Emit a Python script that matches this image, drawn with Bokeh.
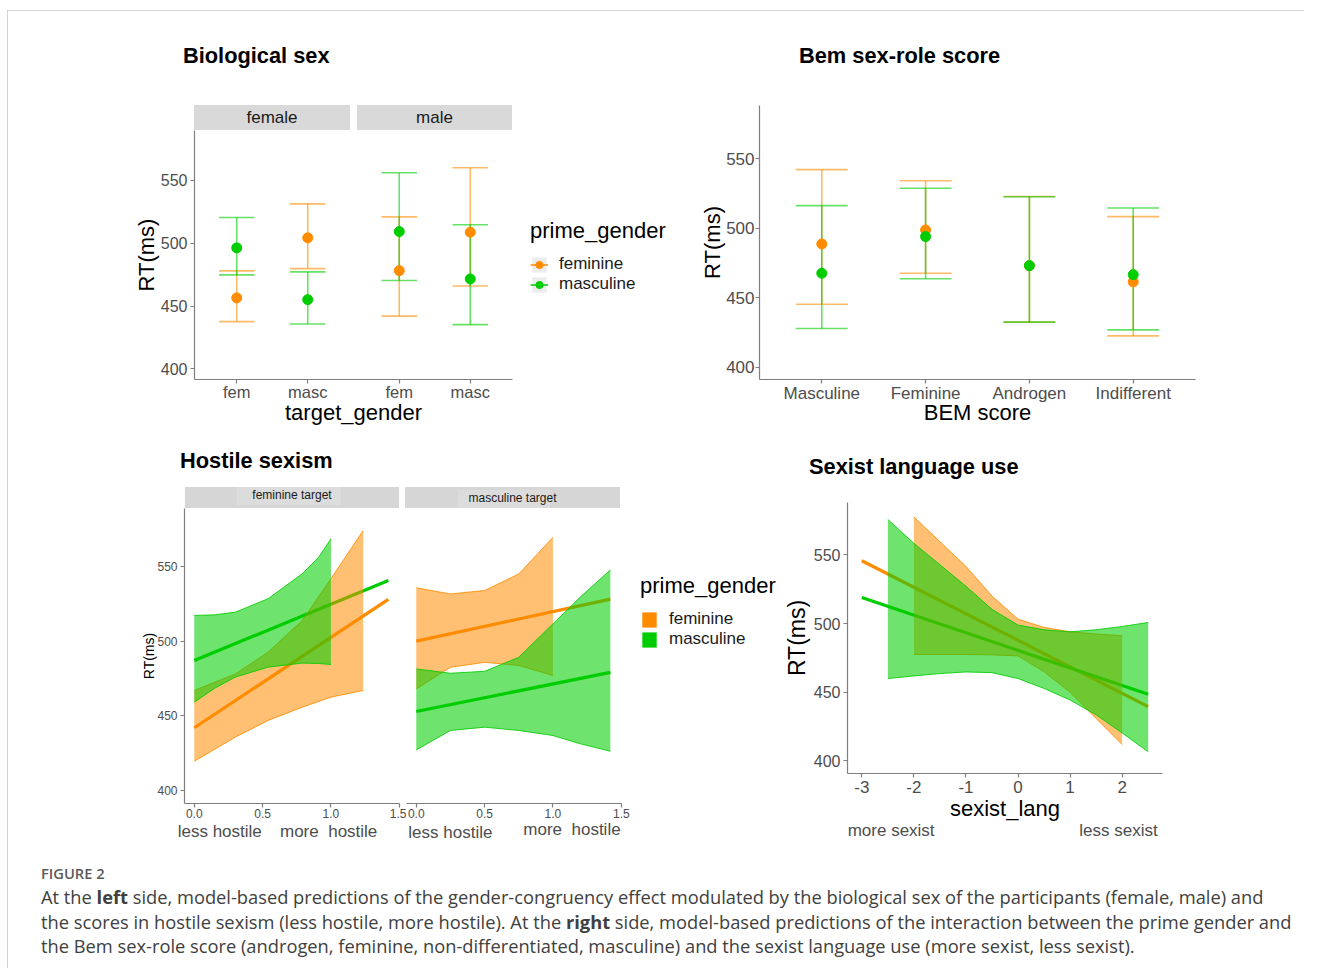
from bokeh.plotting import figure
from bokeh.models import (ColumnDataSource, FactorRange, Range1d, Legend, LegendItem,
                          SingleIntervalTicker, NumeralTickFormatter, Div, Spacer)
from bokeh.layouts import column, row
from bokeh.transform import dodge
from bokeh.embed import file_html
from bokeh.resources import INLINE

# ------------------------------------------------------------------ data
prime_levels = ["feminine", "masculine"]

# Biological sex (top left) : facets x target_gender
sex_groups = ["female", "male"]
target_levels = ["fem", "masc"]
# order: female/fem, female/masc, male/fem, male/masc
bio_fem_mean = [456.5, 504.3, 478.2, 508.8]
bio_fem_lower = [437.6, 479.8, 442.0, 466.0]
bio_fem_upper = [478.0, 531.4, 521.0, 560.1]
bio_masc_mean = [496.3, 455.1, 509.3, 471.6]
bio_masc_lower = [474.8, 435.7, 470.3, 435.2]
bio_masc_upper = [520.5, 477.2, 556.1, 514.7]

# Bem sex-role score (top right)
bem_levels = ["Masculine", "Feminine", "Androgen", "Indifferent"]
bem_fem_mean = [488.7, 498.8, 473.0, 461.4]
bem_fem_lower = [445.3, 467.6, 432.4, 422.5]
bem_fem_upper = [542.2, 534.2, 522.9, 508.4]
bem_masc_mean = [467.6, 494.0, 473.1, 466.6]
bem_masc_lower = [427.8, 463.7, 432.4, 426.8]
bem_masc_upper = [516.3, 528.8, 522.7, 514.6]

# Hostile sexism (bottom left)
hs_targets = ["feminine target", "masculine target"]
hs_line_x = [0.0, 1.42]
hs_ft_fem_line = [442.0, 528.0]
hs_ft_masc_line = [487.0, 540.6]
hs_mt_fem_line = [500.0, 528.1]
hs_mt_masc_line = [452.9, 479.1]

hs_ft_fem_band_x = [0.0, 0.3, 0.54, 0.79, 1.0, 1.236]
hs_ft_fem_upper = [467.0, 478.0, 492.6, 513.8, 541.8, 574.1]
hs_ft_fem_lower = [419.6, 435.7, 446.9, 455.8, 462.5, 467.0]
hs_ft_masc_band_x = [0.0, 0.15, 0.3, 0.54, 0.79, 0.91, 1.0]
hs_ft_masc_upper = [517.2, 517.6, 519.4, 528.4, 545.1, 556.2, 568.5]
hs_ft_masc_lower = [459.1, 468.5, 475.9, 482.6, 485.3, 485.0, 484.4]

hs_mt_fem_band_x = [0.0, 0.25, 0.5, 0.75, 1.0]
hs_mt_fem_upper = [535.7, 531.6, 533.9, 545.0, 569.5]
hs_mt_fem_lower = [468.0, 482.5, 485.8, 483.7, 477.0]
hs_mt_masc_band_x = [0.0, 0.25, 0.5, 0.75, 1.0, 1.2, 1.42]
hs_mt_masc_upper = [481.4, 478.5, 479.8, 489.2, 511.6, 529.5, 547.7]
hs_mt_masc_lower = [427.2, 440.2, 442.4, 440.2, 436.8, 431.3, 426.3]

# Sexist language use (bottom right)
sl_line_x = [-3.0, 2.5]
sl_fem_line = [545.7, 439.6]
sl_masc_line = [518.9, 448.5]
sl_fem_band_x = [-2, -1.5, -1, -0.5, 0, 0.5, 1, 1.5, 2]
sl_fem_upper = [577.6, 559.6, 541.6, 520.0, 503.2, 497.2, 494.0, 492.4, 491.2]
sl_fem_lower = [477.5, 477.5, 477.5, 477.2, 476.5, 465.0, 450.0, 431.0, 412.0]
sl_masc_band_x = [-2.5, -2, -1.5, -1, -0.5, 0, 0.5, 1, 1.5, 2, 2.5]
sl_masc_upper = [575.7, 558.4, 542.8, 527.2, 510.4, 498.9, 495.5, 494.0, 495.5, 497.9, 500.8]
sl_masc_lower = [460.0, 461.9, 463.6, 464.8, 464.3, 460.0, 452.8, 444.4, 433.6, 420.4, 406.7]

# ------------------------------------------------------------------ styles
FONT = "Liberation Sans"
CAP_FONT = "Open Sans"
ORANGE = "#FF8C00"
GREEN = "#00CD00"
TXT_GRAY = "#4d4d4d"
AX_GRAY = "#7f7f7f"
COLORS = [ORANGE, GREEN]


def base_fig(width, height, x_range, y_range, left, right, top, bottom, **kw):
    p = figure(width=width, height=height, x_range=x_range, y_range=y_range,
               output_backend="svg", toolbar_location=None,
               min_border_left=left, min_border_right=right,
               min_border_top=top, min_border_bottom=bottom, **kw)
    p.outline_line_color = None
    p.xgrid.visible = False
    p.ygrid.visible = False
    return p


def style_axis(ax, label_size, title_size, label_standoff, title_standoff):
    ax.axis_line_color = AX_GRAY
    ax.axis_line_width = 1.2
    ax.major_tick_line_color = AX_GRAY
    ax.major_tick_line_width = 1.2
    ax.major_tick_in = 0
    ax.major_tick_out = 4
    ax.minor_tick_line_color = None
    ax.major_label_text_font = FONT
    ax.major_label_text_font_size = label_size
    ax.major_label_text_color = TXT_GRAY
    ax.major_label_standoff = label_standoff
    ax.axis_label_text_font = FONT
    ax.axis_label_text_font_size = title_size
    ax.axis_label_text_font_style = "normal"
    ax.axis_label_text_color = "#000000"
    ax.axis_label_standoff = title_standoff


def pointranges(p, xs, series, half):
    srcs = []
    for (mean, lower, upper), col in zip(series, COLORS):
        src = ColumnDataSource(dict(x=xs, mean=mean, lower=lower, upper=upper))
        kw = dict(line_color=col, line_alpha=0.6, line_width=1.6, source=src)
        p.segment(x0="x", y0="lower", x1="x", y1="upper", **kw)
        p.segment(x0=dodge("x", -half, range=p.x_range), y0="upper",
                  x1=dodge("x", half, range=p.x_range), y1="upper", **kw)
        p.segment(x0=dodge("x", -half, range=p.x_range), y0="lower",
                  x1=dodge("x", half, range=p.x_range), y1="lower", **kw)
        srcs.append(src)
    for src, col in zip(srcs, COLORS):
        p.scatter("x", "mean", size=10, fill_color=col, line_color=col, source=src)


def fit_lines(p, x, ys):
    for y, col in zip(ys, COLORS):
        p.line(x=x, y=y, line_color=col, line_width=3.2)


def bands(p, specs):
    for (x, lower, upper), col, a in zip(specs, COLORS, [0.55, 0.57]):
        src = ColumnDataSource(dict(x=x, lower=lower, upper=upper))
        p.varea(x="x", y1="lower", y2="upper", fill_color=col, fill_alpha=a, source=src)
        p.line("x", "upper", line_color=col, line_width=1, line_alpha=0.85, source=src)
        p.line("x", "lower", line_color=col, line_width=1, line_alpha=0.85, source=src)


def legend_fig(width, height, kind, series):
    # the legend lives in its own small figure; its key renderers reuse the
    # chart's own values but are hidden, only the legend draws them
    p = figure(width=width, height=height, output_backend="svg", toolbar_location=None,
               x_range=Range1d(0, 1), y_range=Range1d(0, 1),
               x_axis_location=None, y_axis_location=None, min_border=0)
    p.outline_line_color = None
    p.xgrid.visible = False
    p.ygrid.visible = False
    items = []
    for lab, col, (mean, lower, upper) in zip(prime_levels, COLORS, series):
        src = ColumnDataSource(dict(mean=mean, lower=lower, upper=upper))
        if kind == "point":
            bg = p.quad(left="lower", right="upper", top="upper", bottom="lower", source=src,
                        fill_color="#ececec", line_color=None, visible=False)
            ln = p.segment(x0="lower", y0="mean", x1="upper", y1="mean", source=src,
                           line_color=col, line_alpha=0.75, line_width=2, visible=False)
            pt = p.scatter("mean", "mean", source=src, size=8, fill_color=col,
                           line_color=col, visible=False)
            rs = [bg, ln, pt]
        else:
            q = p.quad(left="lower", right="upper", top="upper", bottom="lower", source=src,
                       fill_color=col, line_color=None, visible=False)
            rs = [q]
        items.append(LegendItem(label=lab, renderers=rs))
    leg = Legend(items=items, location="top_left", title="prime_gender",
                 margin=0, padding=0, spacing=0, glyph_width=18, glyph_height=19,
                 label_height=19, label_standoff=11, title_standoff=10,
                 label_text_font=FONT, label_text_font_size="17px", label_text_color="#1a1a1a",
                 title_text_font=FONT, title_text_font_size="22px", title_text_font_style="normal",
                 title_text_color="#000000", border_line_color=None, background_fill_alpha=0,
                 inactive_fill_alpha=0)
    p.add_layout(leg)
    return p


def txt(left, cy, text, fs, color="#000000", weight="normal", family=FONT, lh=None):
    lh = lh or round(fs * 1.2)
    top = cy - lh / 2
    return (f'<div style="position:absolute;left:{left}px;top:{top:.1f}px;line-height:{lh}px;'
            f"font-family:'{family}';font-size:{fs}px;font-weight:{weight};color:{color};"
            f'white-space:pre;">{text}</div>')


def box(left, top, width, height, bg):
    return (f'<div style="position:absolute;left:{left}px;top:{top}px;width:{width}px;'
            f'height:{height}px;background:{bg};"></div>')


def ctext(left, cy, width, text, fs, color="#1a1a1a", lh=20):
    return (f'<div style="position:absolute;left:{left}px;top:{cy - lh / 2:.1f}px;width:{width}px;'
            f"line-height:{lh}px;text-align:center;font-family:'{FONT}';font-size:{fs}px;"
            f'color:{color};white-space:nowrap;">{text}</div>')


def canvas_div(width, height, inner):
    return Div(text=f'<div style="position:relative;width:{width}px;height:{height}px;">{inner}</div>',
               width=width, height=height, margin=0)


# ------------------------------------------------------------------ top left
bio_factors = [(s, t) for s in sex_groups for t in target_levels]
bio_xr = FactorRange(factors=bio_factors, group_padding=0.289, range_padding=0.095,
                     range_padding_units="absolute")
p_bio = base_fig(522, 307, bio_xr, Range1d(391.5, 589.8), 186, 18, 0, 58)
pointranges(p_bio, bio_factors,
            [(bio_fem_mean, bio_fem_lower, bio_fem_upper),
             (bio_masc_mean, bio_masc_lower, bio_masc_upper)], 0.25)
p_bio.yaxis[0].ticker = SingleIntervalTicker(interval=50, num_minor_ticks=0)
p_bio.yaxis[0].axis_label = "RT(ms)"
p_bio.xaxis[0].axis_label = "target_gender"
style_axis(p_bio.yaxis[0], "16px", "22px", 3, -1)
style_axis(p_bio.xaxis[0], "16.5px", "22px", -1, -4)
p_bio.xaxis[0].group_text_font_size = "0px"
p_bio.xaxis[0].group_text_color = None
p_bio.xaxis[0].separator_line_color = None

tl_leg = legend_fig(160, 100, "point",
                    [(bio_fem_mean, bio_fem_lower, bio_fem_upper),
                     (bio_masc_mean, bio_masc_lower, bio_masc_upper)])

tl_strip = canvas_div(682, 25,
                      box(186, 0, 156, 25, "#d9d9d9") + ctext(186, 12.5, 156, sex_groups[0], 17, lh=25) +
                      box(349, 0, 155, 25, "#d9d9d9") + ctext(349, 12.5, 155, sex_groups[1], 17, lh=25))

tl_block = column(tl_strip, row(p_bio, column(Spacer(width=160, height=88), tl_leg)))

# ------------------------------------------------------------------ top right
bem_xr = FactorRange(factors=bem_levels, range_padding=0.1, range_padding_units="absolute")
p_bem = base_fig(614, 332, bem_xr, Range1d(391.1, 588.4), 69, 109, 0, 58)
pointranges(p_bem, bem_levels,
            [(bem_fem_mean, bem_fem_lower, bem_fem_upper),
             (bem_masc_mean, bem_masc_lower, bem_masc_upper)], 0.25)
p_bem.yaxis[0].ticker = SingleIntervalTicker(interval=50, num_minor_ticks=0)
p_bem.yaxis[0].axis_label = "RT(ms)"
p_bem.xaxis[0].axis_label = "BEM score"
style_axis(p_bem.yaxis[0], "17px", "22px", 1, -2)
style_axis(p_bem.xaxis[0], "17px", "22px", 0, -6)

# ------------------------------------------------------------------ bottom left
hs_yr = Range1d(391.3, 588.8)
p_hs1 = base_fig(398, 313, Range1d(-0.0715, 1.5015), hs_yr, 176, 7, 0, 18)
p_hs2 = base_fig(234, 313, Range1d(-0.0715, 1.5015), hs_yr, 0, 19, 0, 18, y_axis_location=None)
fit_lines(p_hs1, hs_line_x, [hs_ft_fem_line, hs_ft_masc_line])
bands(p_hs1, [(hs_ft_fem_band_x, hs_ft_fem_lower, hs_ft_fem_upper),
              (hs_ft_masc_band_x, hs_ft_masc_lower, hs_ft_masc_upper)])
fit_lines(p_hs2, hs_line_x, [hs_mt_fem_line, hs_mt_masc_line])
bands(p_hs2, [(hs_mt_fem_band_x, hs_mt_fem_lower, hs_mt_fem_upper),
              (hs_mt_masc_band_x, hs_mt_masc_lower, hs_mt_masc_upper)])
for p in (p_hs1, p_hs2):
    xa = p.xaxis[0]
    xa.ticker = SingleIntervalTicker(interval=0.5, num_minor_ticks=0)
    xa.formatter = NumeralTickFormatter(format="0.0")
    style_axis(xa, "12px", "14px", 1, 0)
p_hs1.yaxis[0].ticker = SingleIntervalTicker(interval=50, num_minor_ticks=0)
p_hs1.yaxis[0].axis_label = "RT(ms)"
style_axis(p_hs1.yaxis[0], "12px", "14px", 3, -3)

bl_leg = legend_fig(140, 80, "fill",
                    [(hs_ft_fem_line, hs_ft_fem_lower, hs_ft_fem_upper),
                     (hs_ft_masc_line, hs_ft_masc_lower, hs_ft_masc_upper)])

bl_strip = canvas_div(772, 21,
                      box(177, 0, 214, 21, "#d6d6d6") + box(229, 0, 104, 18, "#dcdcdc") +
                      ctext(177, 8, 214, hs_targets[0], 12, lh=16) +
                      box(397, 0, 215, 21, "#d6d6d6") + box(450, 3, 92, 18, "#dcdcdc") +
                      ctext(397, 11, 215, hs_targets[1], 12, lh=16))
bl_annot = canvas_div(772, 29,
                      txt(169.7, 10.7, "less hostile", 17, TXT_GRAY, lh=14) +
                      txt(272, 10.7, "more  hostile", 17, TXT_GRAY, lh=14) +
                      txt(400.3, 12.3, "less hostile", 17, TXT_GRAY, lh=14) +
                      txt(515.3, 9.0, "more  hostile", 17, TXT_GRAY, lh=14))

bl_block = column(bl_strip,
                  row(p_hs1, p_hs2, column(Spacer(width=140, height=65), bl_leg)),
                  bl_annot)

# ------------------------------------------------------------------ bottom right
p_sl = base_fig(524, 321, Range1d(-3.275, 2.775), Range1d(390.9, 588.1), 64, 142, 0, 47)
fit_lines(p_sl, sl_line_x, [sl_fem_line, sl_masc_line])
bands(p_sl, [(sl_fem_band_x, sl_fem_lower, sl_fem_upper),
             (sl_masc_band_x, sl_masc_lower, sl_masc_upper)])
p_sl.xaxis[0].ticker = SingleIntervalTicker(interval=1, num_minor_ticks=0)
p_sl.xaxis[0].formatter = NumeralTickFormatter(format="0")
p_sl.yaxis[0].ticker = SingleIntervalTicker(interval=50, num_minor_ticks=0)
p_sl.xaxis[0].axis_label = "sexist_lang"
p_sl.yaxis[0].axis_label = "RT(ms)"
style_axis(p_sl.xaxis[0], "17px", "22px", 3, 0)
style_axis(p_sl.yaxis[0], "16px", "23px", 3, 1)

br_annot = canvas_div(524, 27,
                      txt(67.7, 7.7, "more sexist", 17, TXT_GRAY, lh=14) +
                      txt(299.3, 7.7, "less sexist", 17, TXT_GRAY, lh=14))
br_block = column(Spacer(width=524, height=15), p_sl, br_annot)

# ------------------------------------------------------------------ titles & caption
top_titles = canvas_div(1296, 94,
                        txt(175, 45, "Biological sex", 21.8, weight="bold") +
                        txt(791, 45, "Bem sex-role score", 21.8, weight="bold"))
bot_titles = canvas_div(1296, 50,
                        txt(172, 24, "Hostile sexism", 21.8, weight="bold") +
                        txt(801, 30, "Sexist language use", 21.8, weight="bold"))

cap_lines = [
    "At the <b>left</b> side, model-based predictions of the gender-congruency effect modulated by the biological sex of the participants (female, male) and",
    "the scores in hostile sexism (less hostile, more hostile). At the <b>right</b> side, model-based predictions of the interaction between the prime gender and",
    "the Bem sex-role score (androgen, feminine, non-differentiated, masculine) and the sexist language use (more sexist, less sexist).",
]
cap_html = txt(33, 23, "FIGURE 2", 14.7, "#5a5a5a", weight="600", family=CAP_FONT)
for cy, line in zip([47, 72, 96], cap_lines):
    cap_html += txt(33, cy, line, 18.3, "#404040", family=CAP_FONT, lh=24)
caption = canvas_div(1296, 118, cap_html)

main = column(top_titles,
              row(tl_block, p_bem),
              bot_titles,
              row(bl_block, br_block),
              caption,
              styles={"border-left": "1px solid #d2d2d2", "border-top": "1px solid #d2d2d2"})
root = column(Spacer(width=1303, height=10), row(Spacer(width=7, height=10), main))

open("out.html", "w").write(file_html(root, INLINE))
